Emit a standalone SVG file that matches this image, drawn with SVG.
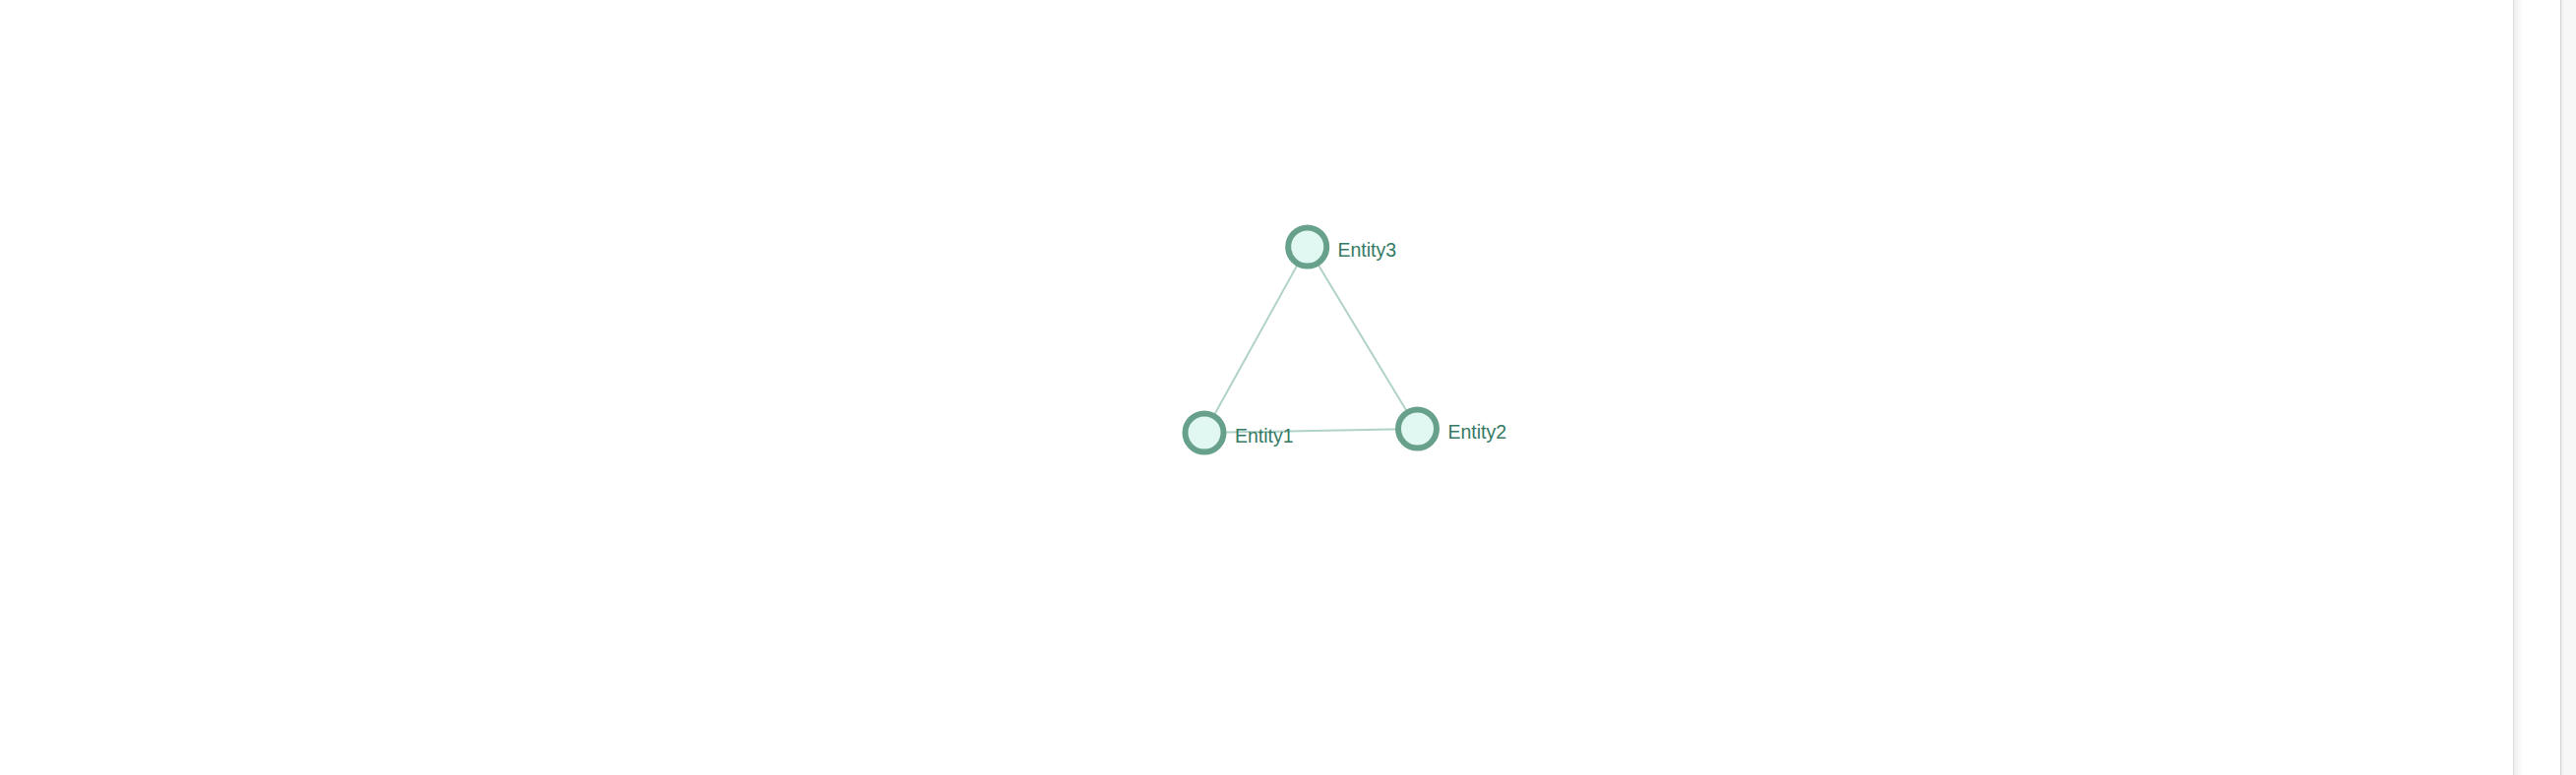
<svg xmlns="http://www.w3.org/2000/svg" width="2618" height="788" viewBox="0 0 2618 788">
  <style>
    .link { stroke: #a9cdc3; stroke-width: 2; stroke-opacity: 0.9; fill: none; }
    .node circle { fill: #e1f7f1; stroke: #67a08b; stroke-width: 6; }
    .node text { font-family: "Liberation Sans", Arial, sans-serif; font-size: 19.5px; fill: #357a64; }
  </style>
  <defs>
    <linearGradient id="shade1" x1="0" y1="0" x2="1" y2="0">
      <stop offset="0" stop-color="#ececec"/>
      <stop offset="1" stop-color="#ffffff"/>
    </linearGradient>
    <linearGradient id="shade2" x1="0" y1="0" x2="1" y2="0">
      <stop offset="0" stop-color="#e6e6e6"/>
      <stop offset="1" stop-color="#f7f7f7"/>
    </linearGradient>
  </defs>
  <rect x="0" y="0" width="2618" height="788" fill="#ffffff"/>
  <g id="side-panel">
    <rect x="2554" y="0" width="10" height="788" fill="url(#shade1)"/>
    <line x1="2554.5" y1="0" x2="2554.5" y2="788" stroke="#dcdcdc" stroke-width="1"/>
    <rect x="2602" y="0" width="16" height="788" fill="#f7f7f7"/>
    <rect x="2602" y="0" width="4" height="788" fill="url(#shade2)"/>
    <line x1="2602.5" y1="0" x2="2602.5" y2="788" stroke="#d6d6d6" stroke-width="1"/>
  </g>
  <g id="links">
    <line class="link" x1="1224" y1="440" x2="1440.5" y2="436"/>
    <line class="link" x1="1224" y1="440" x2="1328.7" y2="251"/>
    <line class="link" x1="1440.5" y1="436" x2="1328.7" y2="251"/>
  </g>
  <g id="node-entity1" class="node">
    <circle cx="1224" cy="440" r="19.5"/>
    <text x="1255" y="450">Entity1</text>
  </g>
  <g id="node-entity2" class="node">
    <circle cx="1440.5" cy="436" r="19.5"/>
    <text x="1471.5" y="446">Entity2</text>
  </g>
  <g id="node-entity3" class="node">
    <circle cx="1328.7" cy="251" r="19.5"/>
    <text x="1359.5" y="261">Entity3</text>
  </g>
</svg>
